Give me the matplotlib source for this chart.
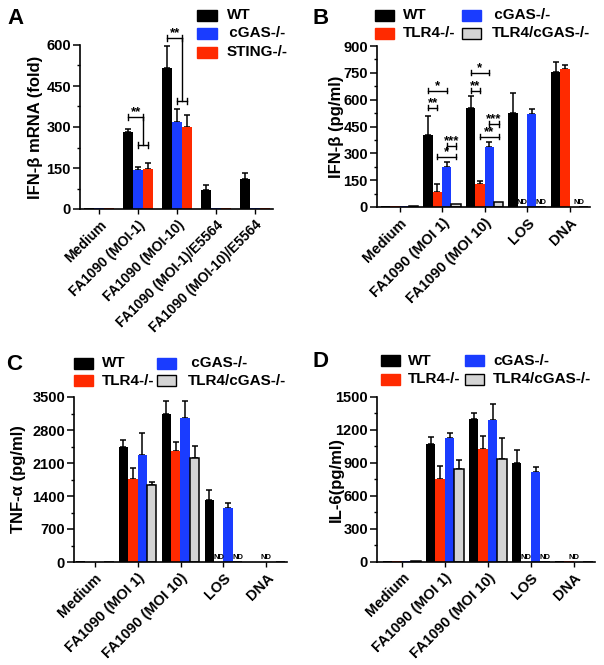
import numpy as np
import matplotlib
matplotlib.use("Agg")
import matplotlib.pyplot as plt
from matplotlib.patches import Rectangle

plt.rcParams['font.family'] = ['Liberation Sans', 'DejaVu Sans']
plt.rcParams['font.weight'] = 'bold'

W, H = 604, 665

# ---------------- data ----------------
A_categories = ["Medium", "FA1090 (MOI-1)", "FA1090 (MOI-10)",
                "FA1090 (MOI-1)/E5564", "FA1090 (MOI-10)/E5564"]
A_wt = [3, 282, 515, 70, 110]
A_wt_err = [0, 12, 82, 19, 21]
A_cgas = [3, 142, 317, 3, 3]
A_cgas_err = [0, 10, 50, 0, 0]
A_sting = [3, 148, 300, 3, 3]
A_sting_err = [0, 20, 44, 0, 0]

BCD_categories = ["Medium", "FA1090 (MOI 1)", "FA1090 (MOI 10)", "LOS", "DNA"]

B_wt = [4, 403, 552, 524, 752]
B_wt_err = [0, 106, 71, 112, 58]
B_tlr4 = [4, 82, 127, 0, 771]
B_tlr4_err = [0, 46, 20, 0, 24]
B_cgas = [4, 225, 334, 519, 0]
B_cgas_err = [0, 29, 32, 28, 0]
B_dko = [4, 15, 30, 0, 0]
B_dko_err = [0, 0, 0, 0, 0]

C_wt = [12, 2446, 3140, 1315, 0]
C_wt_err = [0, 142, 282, 212, 0]
C_tlr4 = [0, 1761, 2355, 0, 0]
C_tlr4_err = [0, 226, 184, 0, 0]
C_cgas = [0, 2270, 3048, 1153, 0]
C_cgas_err = [0, 473, 374, 92, 0]
C_dko = [0, 1626, 2213, 0, 0]
C_dko_err = [0, 78, 247, 0, 0]

D_wt = [6, 1067, 1296, 899, 8]
D_wt_err = [0, 67, 61, 122, 0]
D_tlr4 = [6, 753, 1030, 0, 8]
D_tlr4_err = [0, 115, 113, 0, 0]
D_cgas = [6, 1128, 1289, 813, 0]
D_cgas_err = [0, 40, 144, 46, 0]
D_dko = [6, 847, 939, 0, 0]
D_dko_err = [0, 82, 183, 0, 0]

# ND markers: (category index, bar index)
B_nd = [(3, 1), (3, 3), (4, 2.5)]
C_nd = [(3, 1), (3, 3), (4, 1.5)]
D_nd = [(3, 1), (3, 3), (4, 1.5)]

# significance: (category, bar_i, bar_j, y, label)
B_sig = [(1, 0, 2, 649, "*"), (1, 0, 1, 554, "**"), (1, 2, 3, 341, "***"), (1, 1, 3, 280, "*"),
         (2, 0, 2, 750, "*"), (2, 0, 1, 649, "**"), (2, 2, 3, 464, "***"), (2, 1, 3, 392, "**")]
# panel A: (category, upper y, lower y, label)
A_sig = [(1, 337, 234, "**"), (2, 626, 395, "**")]

BLACK = "#000000"
BLUE = "#1a3cff"
RED = "#ff2a00"
GRAY = "#d4d4d4"

fig = plt.figure(figsize=(W / 100, H / 100), dpi=100)


def axes_px(left, top, right, bottom):
    return fig.add_axes([left / W, 1 - bottom / H, (right - left) / W, (bottom - top) / H])


def bar_pos(n, width, cat, i):
    return cat + (i - (n - 1) / 2) * width


def draw_panel(ax, cats, series, errs, colors, width, xlim, ymax, ystep, ylabel, label_x,
               xfs=10.5):
    n = len(series)
    x = np.arange(len(cats))
    for i, (vals, err, c) in enumerate(zip(series, errs, colors)):
        pos = x + (i - (n - 1) / 2) * width
        ec = BLACK if c == GRAY else c
        lw = 1.1 if c == GRAY else 0.0
        ax.bar(pos, vals, width, color=c, edgecolor=ec, linewidth=lw, zorder=2)
        err = np.asarray(err, dtype=float)
        m = err > 0
        if m.any():
            ax.errorbar(pos[m], np.asarray(vals)[m], yerr=[np.zeros(m.sum()), err[m]],
                        fmt='none', ecolor=BLACK, elinewidth=1.1, capsize=2.2,
                        capthick=1.1, zorder=1)
    ax.set_xlim(*xlim)
    ax.set_ylim(0, ymax)
    ax.set_yticks(np.arange(0, ymax + 1, ystep))
    ax.set_yticks(np.arange(ystep / 2, ymax, ystep), minor=True)
    ax.set_xticks(x)
    ax.set_xticklabels(cats, rotation=45, ha='right', va='top', rotation_mode='anchor',
                       fontsize=xfs, fontweight='bold')
    for t in ax.get_yticklabels():
        t.set_fontsize(10.5)
        t.set_fontweight('bold')
    ax.tick_params(axis='y', which='major', length=5, width=1.1, pad=1.5)
    ax.tick_params(axis='y', which='minor', length=2.5, width=1.0)
    ax.tick_params(axis='x', which='major', length=3.5, width=1.0, pad=3)
    for s in ['top', 'right']:
        ax.spines[s].set_visible(False)
    for s in ['left', 'bottom']:
        ax.spines[s].set_linewidth(1.2)
    ax.set_ylabel(ylabel, fontsize=12, fontweight='bold')
    ax.yaxis.set_label_coords(label_x, 0.5)


def bracket(ax, x1, x2, y, d, lw=1.0):
    ax.plot([x1, x2], [y, y], color=BLACK, lw=lw, clip_on=False, zorder=3)
    ax.plot([x1, x1], [y - d, y + d], color=BLACK, lw=lw, clip_on=False, zorder=3)
    ax.plot([x2, x2], [y - d, y + d], color=BLACK, lw=lw, clip_on=False, zorder=3)


def star(ax, x, y, lab):
    ax.annotate(lab, (x, y), xytext=(0, 1.2), textcoords='offset points', ha='center',
                va='baseline', fontsize=9.5, fontweight='bold', annotation_clip=False)


def legend(entries, sq_w=20, sq_h=11):
    for label, face, x, y, tx in entries:
        ec = BLACK if face == GRAY else face
        fig.add_artist(Rectangle(((x) / W, 1 - (y + sq_h / 2) / H), sq_w / W, sq_h / H,
                                 transform=fig.transFigure, facecolor=face, edgecolor=ec,
                                 linewidth=1.0))
        fig.text(tx / W, 1 - y / H, label, fontsize=11, fontweight='bold', ha='left',
                 va='center')


def panel_letter(s, x, y):
    fig.text(x / W, 1 - y / H, s, fontsize=16, fontweight='bold', ha='left', va='center')


# ---------------- Panel A ----------------
axA = axes_px(80, 45, 273, 209)
draw_panel(axA, A_categories, [A_wt, A_cgas, A_sting], [A_wt_err, A_cgas_err, A_sting_err],
           [BLACK, BLUE, RED], 0.26, (-0.49, 4.46), 600, 150, "IFN-β mRNA (fold)", -0.19,
           xfs=10)
dA = 12
for cat, yu, yl, lab in A_sig:
    xw = bar_pos(3, 0.26, cat, 0)
    xm = bar_pos(3, 0.26, cat, 1.5)
    x1 = bar_pos(3, 0.26, cat, 1)
    x2 = bar_pos(3, 0.26, cat, 2)
    bracket(axA, xw, xm, yu, dA)
    axA.plot([xm, xm], [yu, yl], color=BLACK, lw=1.0, clip_on=False, zorder=3)
    bracket(axA, x1, x2, yl, dA)
    star(axA, (xw + xm) / 2, yu, lab)

legend([("WT", BLACK, 197, 15, 227), (" cGAS-/-", BLUE, 197, 33, 225),
        ("STING-/-", RED, 197, 52, 227)])
panel_letter("A", 7, 19)

# ---------------- Panel B ----------------
axB = axes_px(377, 46, 590, 207)
bw = 0.22
draw_panel(axB, BCD_categories, [B_wt, B_tlr4, B_cgas, B_dko],
           [B_wt_err, B_tlr4_err, B_cgas_err, B_dko_err],
           [BLACK, RED, BLUE, GRAY], bw, (-0.53, 4.48), 900, 150, "IFN-β (pg/ml)", -0.155)
for cat, i, j, y, lab in B_sig:
    x1 = bar_pos(4, bw, cat, i)
    x2 = bar_pos(4, bw, cat, j)
    bracket(axB, x1, x2, y, 14)
    star(axB, (x1 + x2) / 2, y, lab)


def nd(ax, items, n, width):
    for cat, i in items:
        ax.text(bar_pos(n, width, cat, i), ax.get_ylim()[1] * 0.006, "ND", ha='center',
                va='bottom', fontsize=5.5, fontweight='bold')


nd(axB, B_nd, 4, bw)
legend([("WT", BLACK, 375, 15, 403), ("TLR4-/-", RED, 375, 33, 403),
        (" cGAS-/-", BLUE, 462, 15, 490), ("TLR4/cGAS-/-", GRAY, 462, 33, 492)], sq_w=19)
panel_letter("B", 313, 19)

# ---------------- Panel C ----------------
axC = axes_px(74, 397, 287, 562)
draw_panel(axC, BCD_categories, [C_wt, C_tlr4, C_cgas, C_dko],
           [C_wt_err, C_tlr4_err, C_cgas_err, C_dko_err],
           [BLACK, RED, BLUE, GRAY], bw, (-0.48, 4.48), 3500, 700, "TNF-α (pg/ml)", -0.225)
nd(axC, C_nd, 4, bw)
legend([("WT", BLACK, 74, 363, 102), ("TLR4-/-", RED, 74, 381, 102),
        (" cGAS-/-", BLUE, 157, 363, 187), ("TLR4/cGAS-/-", GRAY, 157, 381, 188)], sq_w=19)
panel_letter("C", 6, 364)

# ---------------- Panel D ----------------
axD = axes_px(377, 397, 595, 561.5)
draw_panel(axD, BCD_categories, [D_wt, D_tlr4, D_cgas, D_dko],
           [D_wt_err, D_tlr4_err, D_cgas_err, D_dko_err],
           [BLACK, RED, BLUE, GRAY], bw, (-0.58, 4.49), 1500, 300, "IL-6(pg/ml)", -0.151)
nd(axD, D_nd, 4, bw)
legend([("WT", BLACK, 381, 361, 408), ("TLR4-/-", RED, 381, 379, 408),
        ("cGAS-/-", BLUE, 465, 361, 493), ("TLR4/cGAS-/-", GRAY, 465, 379, 493)], sq_w=19)
panel_letter("D", 313, 362)

fig.savefig("out.png", dpi=100)
